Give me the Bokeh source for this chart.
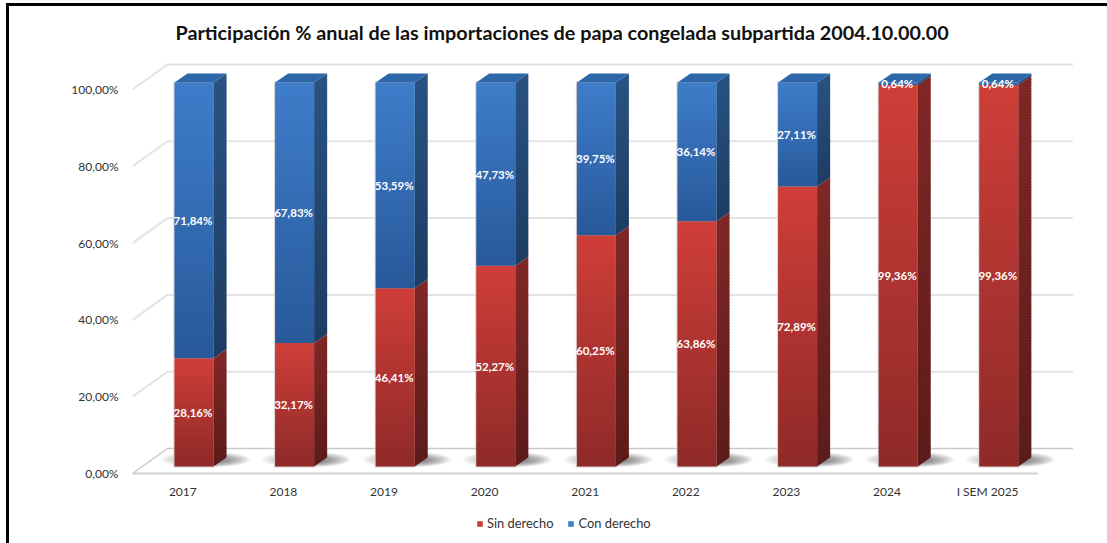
from bokeh.embed import file_html
from bokeh.resources import INLINE
from bokeh.plotting import figure
from bokeh.models import (Range1d, FixedTicker, Legend, LegendItem, Label,
                          ColumnDataSource, Title, InlineStyleSheet)
from bokeh.core.properties import value

categories = ["2017", "2018", "2019", "2020", "2021", "2022", "2023", "2024", "I SEM 2025"]
sin_derecho = [28.16, 32.17, 46.41, 52.27, 60.25, 63.86, 72.89, 99.36, 99.36]
con_derecho = [71.84, 67.83, 53.59, 47.73, 39.75, 36.14, 27.11, 0.64, 0.64]
y_ticks = [0, 20, 40, 60, 80, 100]
y_tick_labels = ["0,00%", "20,00%", "40,00%", "60,00%", "80,00%", "100,00%"]
title_text = "Participación % anual de las importaciones de papa congelada subpartida 2004.10.00.00"

FONT = "Lato"
PX, PY = 100.6, 3.84          # pixels per data unit
W, H = 1107, 543
L, R, T, B = 132, 1075, 60, 540


def hx(px):
    return px / PX


def hy(px):
    return px / PY


# black frame of the picture, left and top edges only
frame_css = InlineStyleSheet(css=":host::after{content:'';position:absolute;left:6px;top:3px;right:0;bottom:0;"
                                 "border-left:3px solid #000;border-top:3px solid #000;pointer-events:none;}")

p = figure(width=W, height=H, output_backend="svg", toolbar_location=None,
           x_range=Range1d(0, (R - L) / PX), y_range=Range1d(-(B - 473) / PY, (473 - T) / PY),
           min_border_left=L, min_border_right=W - R, min_border_top=T, min_border_bottom=H - B,
           margin=0, outline_line_color=None, background_fill_color="white", stylesheets=[frame_css])
p.grid.visible = False

p.title = Title(text=title_text, align="left", offset=43, text_font=FONT, text_font_style="bold",
                text_font_size="19.8px", text_color="#111111", standoff=33)

# axes
p.xaxis.ticker = FixedTicker(ticks=[i + 0.5 for i in range(len(categories))])
p.xaxis.major_label_overrides = {i + 0.5: c for i, c in enumerate(categories)}
p.xaxis.fixed_location = 0
p.yaxis.ticker = FixedTicker(ticks=y_ticks)
p.yaxis.major_label_overrides = dict(zip(y_ticks, y_tick_labels))
for ax in (p.xaxis[0], p.yaxis[0]):
    ax.axis_line_color = None
    ax.major_tick_line_color = None
    ax.minor_tick_line_color = None
    ax.major_label_text_font = FONT
    ax.major_label_text_font_size = "12px"
    ax.major_label_text_color = "#333333"
p.yaxis.major_label_standoff = 8
p.xaxis.major_label_standoff = 4

# walls
dx_w, dy_w = hx(35), hy(25)
n_cat = len(categories)
for t in y_ticks:
    col = "#c9c9c9" if t == 0 else "#e3e3e3"
    w = 1.5 if t == 0 else 2
    p.line([0, dx_w, n_cat + dx_w], [t, t + dy_w, t + dy_w], line_color=col, line_width=w)
p.line([0, n_cat], [0, 0], line_color="#cfcfcf", line_width=2)


def mix(a, b, f):
    ca = [int(a[i:i + 2], 16) for i in (1, 3, 5)]
    cb = [int(b[i:i + 2], 16) for i in (1, 3, 5)]
    return "#%02x%02x%02x" % tuple(round(u + (v - u) * f) for u, v in zip(ca, cb))


# geometry of the bars
bx0, bx1 = hx(42), hx(81)
base = hy(7)
dbx, dby = hx(13), hy(9)

# shadows
sx, sy, sw, sh = [], [], [], []
for i in range(n_cat):
    for k in range(18):
        f = k / 17
        sx.append(i + hx(73 + 10 * f))
        sy.append(hy(14 - f))
        sw.append(hx(90 - 70 * f))
        sh.append(hy(16 - 12 * f))
p.ellipse(sx, sy, width=sw, height=sh, fill_color="#303030", fill_alpha=0.04, line_color=None)


def segment_slices(i, lo, hi, front_top, front_bot, side_top, side_bot):
    n = max(2, round((hi - lo) * PY / 3))
    h = (hi - lo) / n
    fr = dict(left=[], right=[], top=[], bottom=[], color=[])
    sd = dict(xs=[], ys=[], color=[])
    # drawn from the bottom up so that overlaps hide seams
    for k in reversed(range(n)):
        b_ = lo + k * h
        t_ = b_ + h
        f = 1 - (k + 0.5) / n
        low = b_ - (0.2 if k > 0 else 0)
        fr["left"].append(i + bx0)
        fr["right"].append(i + bx1)
        fr["bottom"].append(low + base)
        fr["top"].append(t_ + base)
        fr["color"].append(mix(front_top, front_bot, f))
        sd["xs"].append([i + bx1, i + bx1 + dbx, i + bx1 + dbx, i + bx1])
        sd["ys"].append([low + base, low + base + dby, t_ + base + dby, t_ + base])
        sd["color"].append(mix(side_top, side_bot, f))
    return fr, sd


rr, rb = None, None
for i in range(n_cat):
    # soft edge around the bar
    p.quad(left=[i + bx0 - hx(1)], right=[i + bx1 + hx(1)], bottom=[base - hy(1)], top=[100 + base + hy(1)],
           fill_color="#d8d0d0", line_color=None)
    s_val, c_val = sin_derecho[i], con_derecho[i]
    fr, sd = segment_slices(i, 0, s_val, "#cf3e39", "#8e2a28", "#7f2725", "#5c1b1a")
    p.patches("xs", "ys", source=ColumnDataSource(sd), fill_color="color", line_color=None)
    r = p.quad(left="left", right="right", top="top", bottom="bottom", source=ColumnDataSource(fr),
               fill_color="color", line_color=None)
    rr = rr or r
    fr, sd = segment_slices(i, s_val, s_val + c_val, "#3e7dca", "#28599a", "#285282", "#1c3c63")
    p.patches("xs", "ys", source=ColumnDataSource(sd), fill_color="color", line_color=None)
    r = p.quad(left="left", right="right", top="top", bottom="bottom", source=ColumnDataSource(fr),
               fill_color="color", line_color=None)
    rb = rb or r
    top = s_val + c_val + base
    p.patch([i + bx0, i + bx1, i + bx1 + dbx, i + bx0 + dbx], [top, top, top + dby, top + dby],
            fill_color="#2e66aa", line_color=None)

# data labels
lx, ly, lt = [], [], []
for i in range(n_cat):
    s_val, c_val = sin_derecho[i], con_derecho[i]
    for v, c in ((s_val, s_val / 2), (c_val, s_val + c_val / 2)):
        lx.append(i + (bx0 + bx1) / 2 - hx(1))
        ly.append(c + base)
        lt.append(f"{v:.2f}%".replace(".", ","))
p.text(lx, ly, text=lt, text_color="white", text_font=value(FONT), text_font_style="bold",
       text_font_size="11.5px", text_align="center", text_baseline="middle")

# axis title
p.add_layout(Label(x=hx(60 - L), y=hy(473 - 281), text="%", angle=1.5708, text_font=FONT, text_font_size="13px",
                   text_color="#222222", text_align="center", text_baseline="middle"))

legend = Legend(items=[LegendItem(label="Sin derecho", renderers=[rr], index=0),
                       LegendItem(label="Con derecho", renderers=[rb], index=0)],
                orientation="horizontal", location=(344, 9), glyph_width=7, glyph_height=7,
                label_text_font=FONT, label_text_font_size="12.9px", label_text_color="#333333",
                background_fill_alpha=0, border_line_color=None, spacing=14, label_standoff=4,
                padding=2, margin=0)
p.add_layout(legend, "center")

open("out.html", "w").write(file_html(p, INLINE))
